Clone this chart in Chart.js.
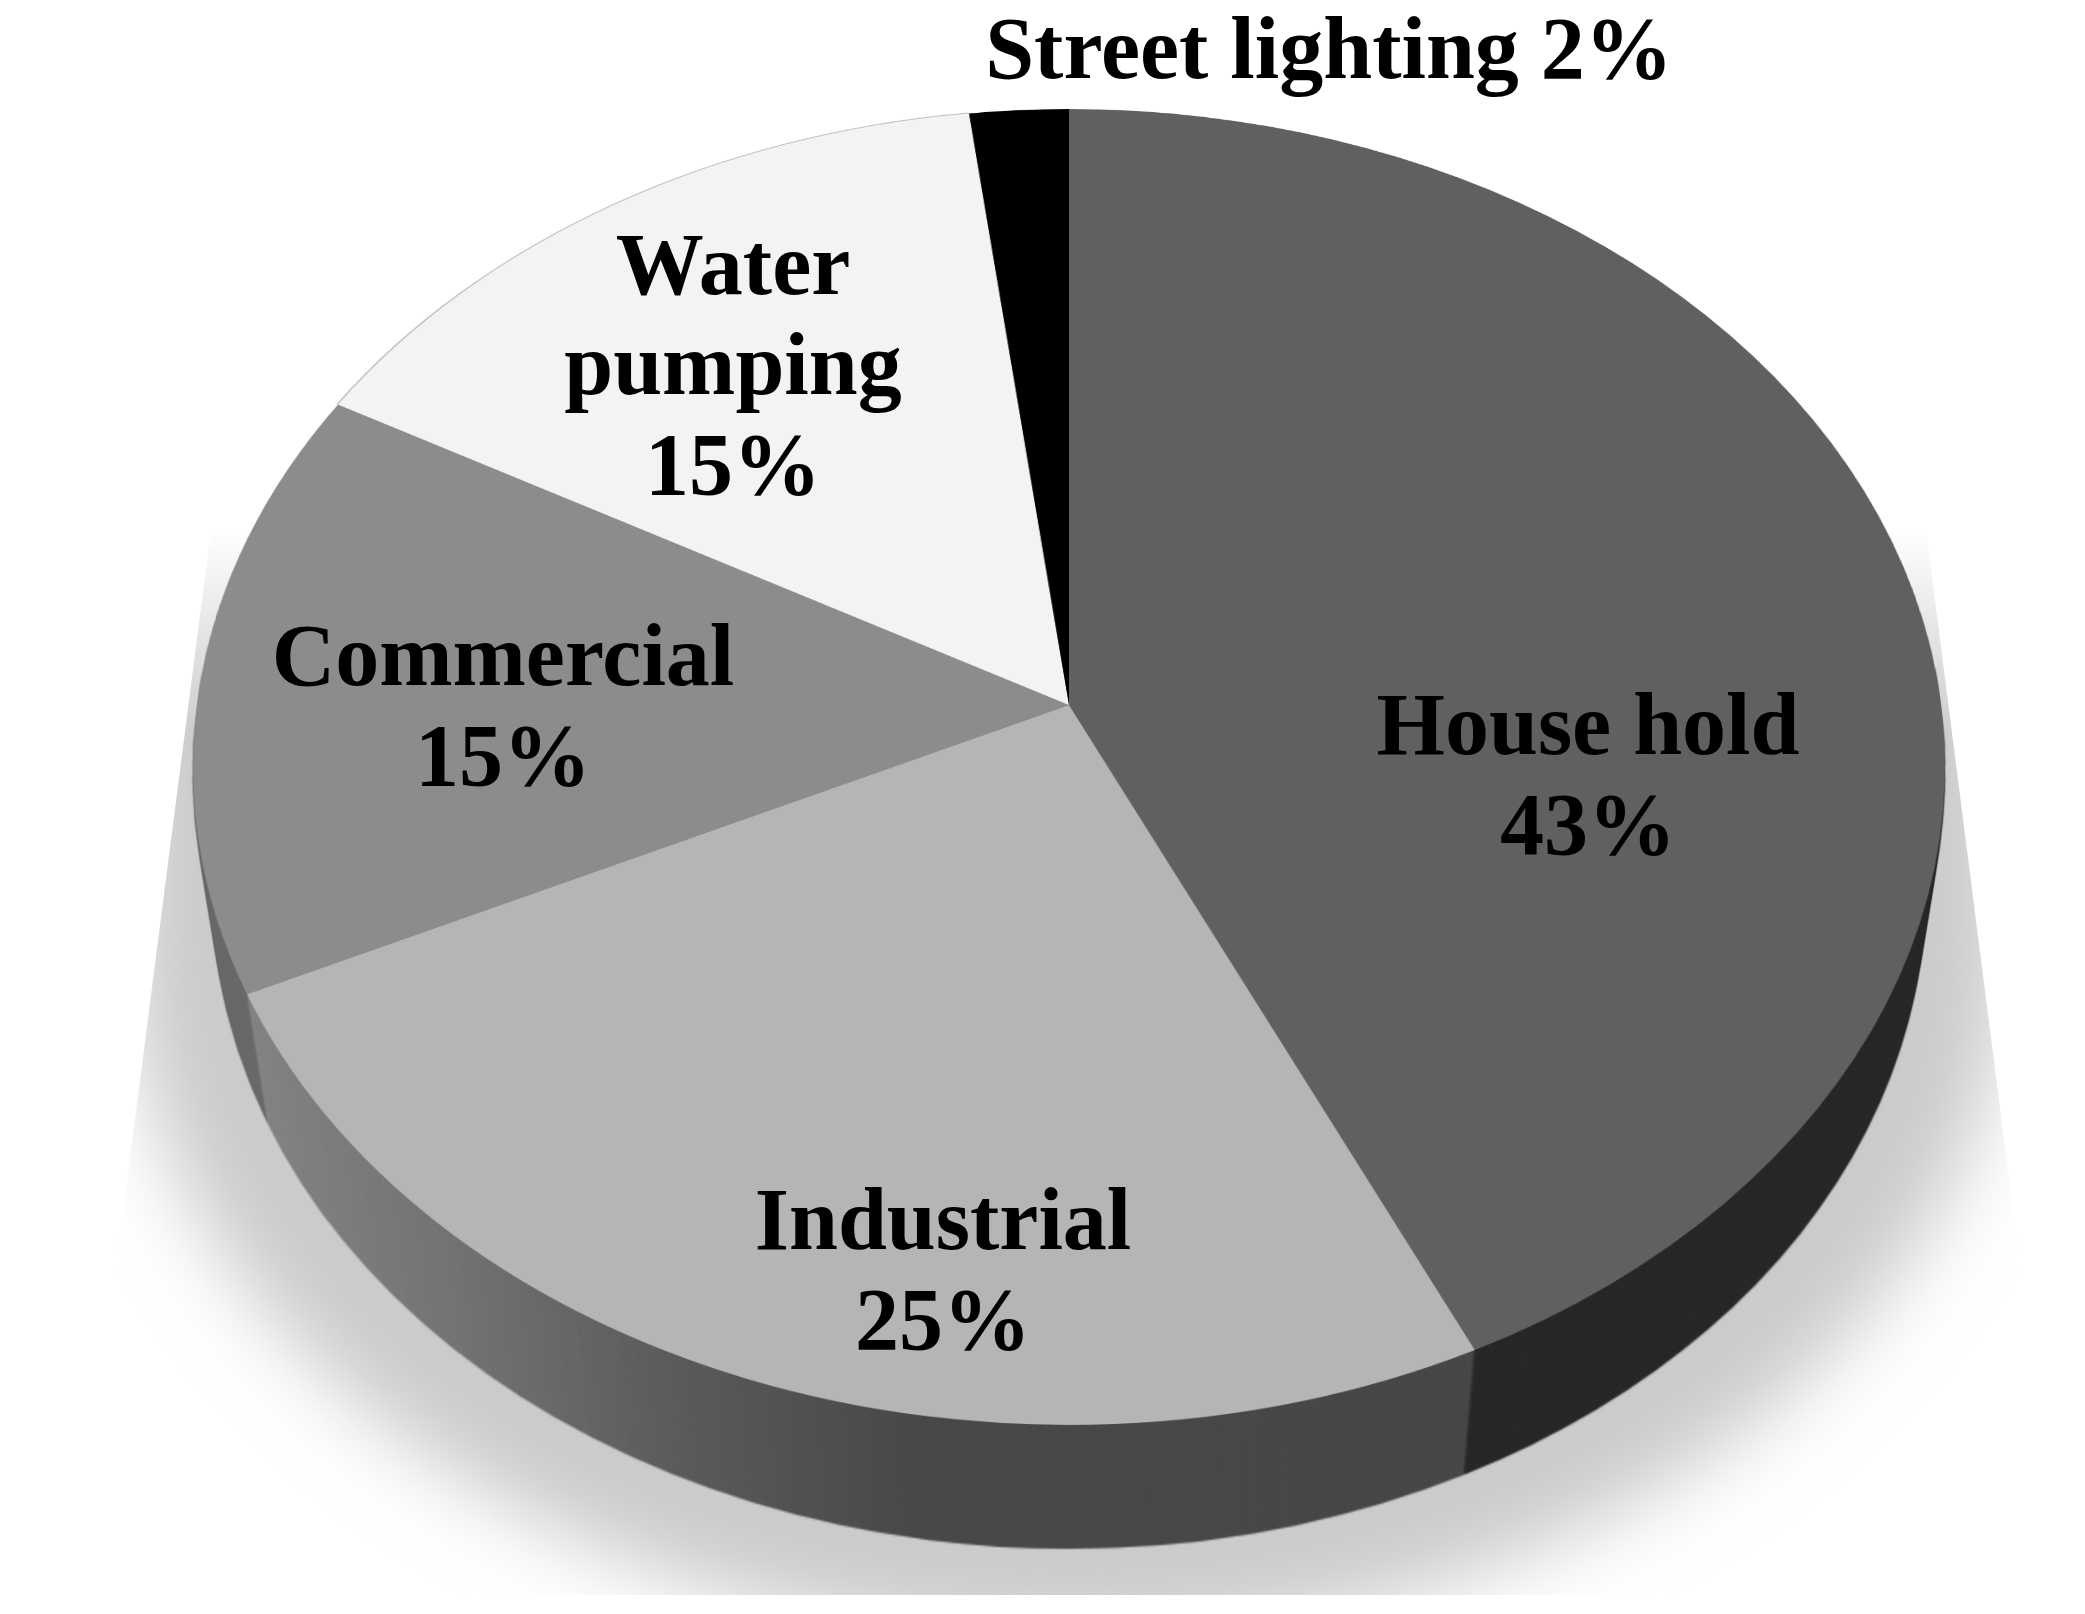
<!DOCTYPE html>
<html>
<head>
<meta charset="utf-8">
<title>Electricity use by sector</title>
<script src="https://cdn.jsdelivr.net/npm/chart.js@4"></script>
<style>
  html, body { margin: 0; padding: 0; background: #fff; overflow: hidden; }
  #page { position: relative; width: 2085px; height: 1614px; overflow: hidden; }
  #shadowClip {
    position: absolute; left: 0; top: 0; width: 2085px; height: 1595px;
    clip-path: polygon(211px 530px, 1926px 530px, 2063px 1600px, 73px 1600px);
    -webkit-mask-image: linear-gradient(to bottom, transparent 530px, #000 730px);
    mask-image: linear-gradient(to bottom, transparent 530px, #000 730px);
  }
  #shadow {
    position: absolute; left: 128px; top: 400px; width: 1880px; height: 1240px;
    background: #cbcbcb; border-radius: 0 0 940px 940px / 0 0 690px 690px;
    filter: blur(40px);
  }
  #scene {
    position: absolute; left: 193px; top: -171px; width: 1752px; height: 1752px;
    transform: perspective(6146px) rotateX(41.6deg);
    transform-style: preserve-3d;
  }
  #scene canvas { position: absolute; left: 0; top: 0; width: 1752px; height: 1752px; }
  .label {
    position: absolute; transform: translateX(-50%); text-align: center;
    font: bold 88px "Liberation Serif", serif; color: #000;
    white-space: nowrap; line-height: 100px;
  }
</style>
</head>
<body>
<div id="page">
  <div id="shadowClip"><div id="shadow"></div></div>
  <div id="scene"></div>
</div>
<script>
const categories = ["House hold", "Industrial", "Commercial", "Water pumping", "Street lighting"];
const shares = [43, 25, 15, 15, 2];

const face_colors = ["#606060", "#b5b5b5", "#8c8c8c", "#f3f3f3", "#000000"];
const rim_colors = ["transparent", "transparent", "transparent", "#bcbcbc", "transparent"];

// label layout: lines, centre x, first baseline y
const label_lines = [
  ["House hold", "43%"],
  ["Industrial", "25%"],
  ["Commercial", "15%"],
  ["Water", "pumping", "15%"],
  ["Street lighting 2%"]
];
const label_x = [1588, 943, 503, 733, 1329];
const label_y = [755, 1250, 686, 295, 79];

const SIZE = 1752;
const RADIUS = 872;
const WALL_DEPTH = 200;
const WALL_LAYERS = 62;
const scene = document.getElementById("scene");

function addPie(z, colors, radius, ratio) {
  const canvas = document.createElement("canvas");
  canvas.width = SIZE;
  canvas.height = SIZE;
  canvas.style.transform = "translateZ(" + z + "px)";
  scene.appendChild(canvas);
  return new Chart(canvas, {
    type: "pie",
    data: {
      labels: categories,
      datasets: [{ data: shares, backgroundColor: colors, borderWidth: 0 }]
    },
    options: {
      responsive: false,
      animation: false,
      devicePixelRatio: ratio,
      events: [],
      radius: radius,
      plugins: { legend: { display: false }, tooltip: { enabled: false } }
    }
  });
}

// side wall shading, left to right across the canvas
function wallColors() {
  const ctx = document.createElement("canvas").getContext("2d");
  const shade = ctx.createLinearGradient(55, 0, 1305, 0);
  shade.addColorStop(0, "#868686");
  shade.addColorStop(0.2, "#727272");
  shade.addColorStop(0.37, "#5a5a5a");
  shade.addColorStop(0.54, "#484848");
  shade.addColorStop(1, "#464646");
  return ["#272727", shade, "#696969", "#555555", "#555555"];
}

const wall_colors = wallColors();
for (let i = WALL_LAYERS; i >= 1; i--) {
  addPie(-WALL_DEPTH * i / WALL_LAYERS, wall_colors, RADIUS, 0.5);
}
addPie(-0.5, rim_colors, RADIUS + 2, 1);
addPie(0, face_colors, RADIUS, 1);

// labels
const page = document.getElementById("page");
label_lines.forEach(function(lines, i) {
  const div = document.createElement("div");
  div.className = "label";
  div.style.left = label_x[i] + "px";
  // 100px line box, baseline sits about 80px down
  div.style.top = (label_y[i] - 80) + "px";
  div.innerHTML = lines.join("<br>");
  page.appendChild(div);
});
</script>
</body>
</html>
